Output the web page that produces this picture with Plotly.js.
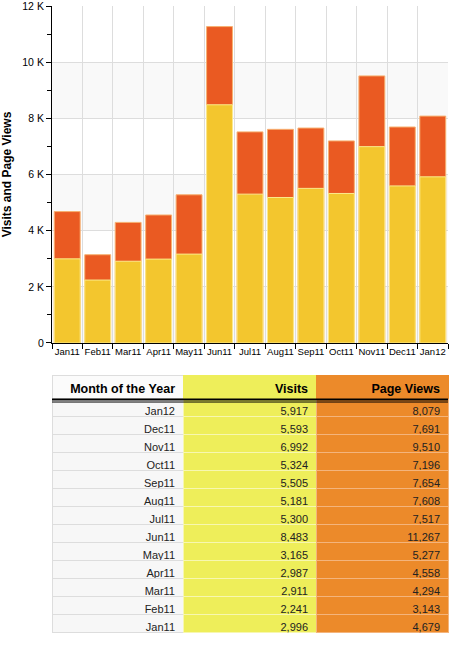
<!DOCTYPE html>
<html><head><meta charset="utf-8">
<script src="https://cdn.plot.ly/plotly-3.0.1.min.js"></script>
<style>body{margin:0;padding:0;background:#fff}#c{width:450px;height:650px}</style>
</head><body><div id="c"></div>
<script>
const months = ["Jan11","Feb11","Mar11","Apr11","May11","Jun11","Jul11","Aug11","Sep11","Oct11","Nov11","Dec11","Jan12"];
const visits = [2996,2241,2911,2987,3165,8483,5300,5181,5505,5324,6992,5593,5917];
const pageViews = [4679,3143,4294,4558,5277,11267,7517,7608,7654,7196,9510,7691,8079];
const yTickVals = [0,2000,4000,6000,8000,10000,12000];
const yTickText = ["0","2 K","4 K","6 K","8 K","10 K","12 K"];
const headers = ["Month of the Year","Visits","Page Views"];

const fmt = v => v.toLocaleString("en-US");
const rMonths = months.slice().reverse();
const rVisits = visits.slice().reverse().map(fmt);
const rViews = pageViews.slice().reverse().map(fmt);
const nb = s => s.replace(/ /g, "\u00a0");

const traces = [
  {type:"bar", x:months, y:pageViews, name:"Page Views",
   marker:{color:"#ea5a22", line:{color:"#f7b070", width:1}}, hoverinfo:"x+y"},
  {type:"bar", x:months, y:visits, name:"Visits",
   marker:{color:"#f3c62e", line:{color:"#fbea8c", width:1}}, hoverinfo:"x+y"},
  {type:"table", domain:{x:[0,1], y:[0,0.4127]},
   columnwidth:[131,133,132],
   header:{values:headers.map(nb), align:"right", height:23,
     fill:{color:["#fbfbfb","#eeee5a","#ec8a2a"]},
     line:{color:["#dddddd","#eeee5a","#ec8a2a"], width:1},
     font:{family:"Liberation Sans, Arial, sans-serif", size:12.5, color:"#000", weight:"bold"}},
   cells:{values:[rMonths, rVisits, rViews], align:"right", height:18,
     fill:{color:["#f7f7f7","#eeee5a","#ec8a2a"]},
     line:{color:["#dddddd","#f7f7b0","#f4b47c"], width:1},
     font:{family:"Liberation Sans, Arial, sans-serif", size:11, color:"#222"}}}
];

const shapes = [];
for (let i=0;i<yTickVals.length-1;i++){
  if (i%2===0) shapes.push({type:"rect", xref:"paper", yref:"y", x0:0, x1:1,
    y0:yTickVals[i], y1:yTickVals[i+1], fillcolor:"#f9f9f9", line:{width:0}, layer:"below"});
}
// double rule under the table header
shapes.push({type:"line", xref:"paper", yref:"paper", x0:0, x1:1, y0:0.3754, y1:0.3754,
  line:{color:"#000", width:2}});
shapes.push({type:"line", xref:"paper", yref:"paper", x0:0, x1:1, y0:0.3714, y1:0.3714,
  line:{color:"#000", width:1}});

const layout = {
  width:450, height:650,
  margin:{l:52, r:2, t:6, b:14},
  paper_bgcolor:"#fff", plot_bgcolor:"#fff",
  barmode:"overlay", bargap:0.15, showlegend:false,
  font:{family:"Liberation Sans, Arial, sans-serif", size:10, color:"#000"},
  xaxis:{type:"category", tickson:"boundaries", ticks:"outside", ticklen:5, tickcolor:"#000",
    tickangle:0, showgrid:true, gridcolor:"#dddddd", showline:true, linecolor:"#000", linewidth:1,
    tickfont:{size:9.5}, domain:[0,1], anchor:"y"},
  yaxis:{range:[0,12000], tickvals:yTickVals, ticktext:yTickText, ticks:"outside", ticklen:5,
    tickcolor:"#000", showgrid:true, gridcolor:"#dddddd", showline:true, linecolor:"#000",
    zeroline:false, domain:[0.4651,1], tickfont:{size:10.5}, ticklabeloverflow:"allow",
    minor:{dtick:1000, tick0:0, ticks:"outside", ticklen:4, tickcolor:"#000", showgrid:false},
    title:{text:"<b>Visits and Page Views</b>", font:{size:12}, standoff:10}},
  shapes:shapes
};
Plotly.newPlot("c", traces, layout, {staticPlot:true});
</script></body></html>
